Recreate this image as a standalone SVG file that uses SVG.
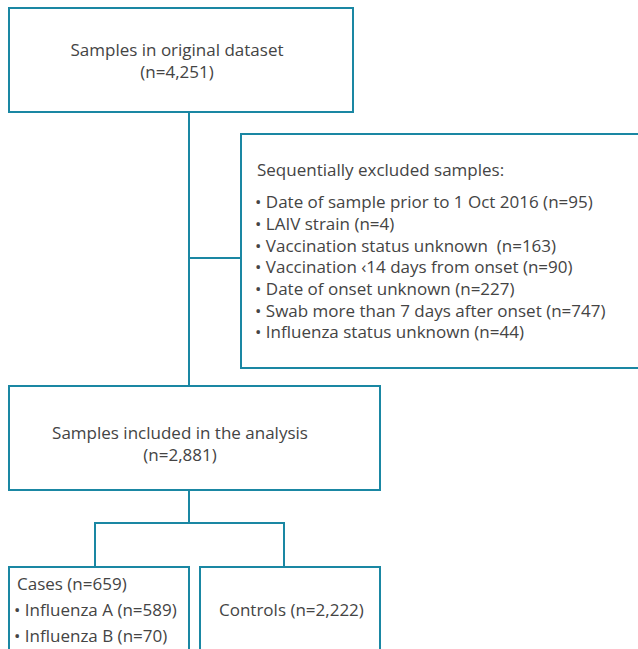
<svg xmlns="http://www.w3.org/2000/svg" width="638" height="649" viewBox="0 0 638 649">
<style>
.box{fill:#fff;stroke:#1a87a3;stroke-width:2}
.ln{fill:none;stroke:#1a87a3;stroke-width:2}
text{font-family:"Open Sans","Liberation Sans",sans-serif;font-size:17px;fill:#444;white-space:pre}
.c{text-anchor:middle}
</style>
<rect width="638" height="649" fill="#fff"/>
<g id="connectors">
<path class="ln" d="M189 112V386M189 258H241M189 490V523M95 567V523H284V567"/>
</g>
<g id="original">
<rect class="box" x="9" y="8" width="344" height="104"/>
<text class="c" x="177" y="56">Samples in original dataset</text>
<text class="c" x="177" y="78">(n=4,251)</text>
</g>
<g id="excluded">
<rect class="box" x="241" y="134" width="400" height="234"/>
<text x="257" y="176">Sequentially excluded samples:</text>
<text x="255" y="208">• Date of sample prior to 1 Oct 2016 (n=95)</text>
<text x="255" y="230">• LAIV strain (n=4)</text>
<text x="255" y="251.5">• Vaccination status unknown  (n=163)</text>
<text x="255" y="273">• Vaccination ‹14 days from onset (n=90)</text>
<text x="255" y="295">• Date of onset unknown (n=227)</text>
<text x="255" y="316.5">• Swab more than 7 days after onset (n=747)</text>
<text x="255" y="338">• Influenza status unknown (n=44)</text>
</g>
<g id="included">
<rect class="box" x="9" y="386" width="371" height="104"/>
<text class="c" x="180" y="439">Samples included in the analysis</text>
<text class="c" x="180" y="461">(n=2,881)</text>
</g>
<g id="cases">
<rect class="box" x="9" y="567" width="180" height="90"/>
<text x="17" y="590">Cases (n=659)</text>
<text x="14" y="616">• Influenza A (n=589)</text>
<text x="14" y="642">• Influenza B (n=70)</text>
</g>
<g id="controls">
<rect class="box" x="200" y="567" width="180" height="90"/>
<text x="219" y="616">Controls (n=2,222)</text>
</g>
</svg>
